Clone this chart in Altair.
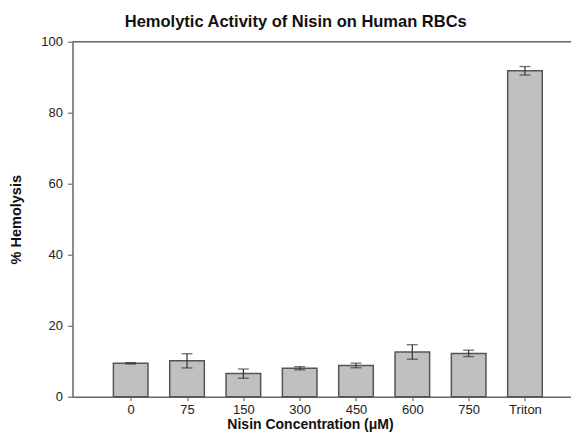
import altair as alt
import pandas as pd

categories = ["0", "75", "150", "300", "450", "600", "750", "Triton"]
hemolysis = [9.4, 10.1, 6.5, 8.0, 8.8, 12.6, 12.2, 91.8]
errors = [0.2, 2.0, 1.3, 0.45, 0.65, 2.05, 0.9, 1.2]
y_ticks = [0, 20, 40, 60, 80, 100]

df = pd.DataFrame({
    "idx": list(range(len(categories))),
    "cat": categories,
    "val": hemolysis,
    "err": errors,
})

FONT = "Liberation Sans"
label_expr = "[" + ",".join(f"'{c}'" for c in categories) + "][datum.value]"

xscale = alt.Scale(domain=[-1.033, 7.817], nice=False, zero=False)
yscale = alt.Scale(domain=[0, 100], nice=False)

base = alt.Chart(df).transform_calculate(
    xl="datum.idx - 0.307",
    xr="datum.idx + 0.307",
    lo="datum.val - datum.err",
    hi="datum.val + datum.err",
    zero="0",
)

bars = base.mark_bar(color="#c0c0c0", stroke="#555555", strokeWidth=1.5).encode(
    x=alt.X("xl:Q", scale=xscale, title="Nisin Concentration (μM)",
            axis=alt.Axis(values=list(range(len(categories))), labelExpr=label_expr,
                          grid=False, tickSize=4, labelPadding=3,
                          titleX=237.5, titleY=32.3, titleBaseline="alphabetic",
                          titleAnchor="middle", titleAlign="center",
                          domainColor="#6a6a6a", domainWidth=1.5, tickColor="#555555",
                          labelFont=FONT, labelFontSize=13, labelColor="#222222",
                          titleFont=FONT, titleFontSize=14, titleFontWeight="bold",
                          titleColor="#111111", labelFlush=False)),
    x2="xr:Q",
    y=alt.Y("val:Q", scale=yscale, title="% Hemolysis",
            axis=alt.Axis(values=y_ticks, grid=False, tickSize=5, labelPadding=5,
                          titlePadding=17, domainColor="#6a6a6a", domainWidth=1.5,
                          tickColor="#555555", labelFont=FONT, labelFontSize=13,
                          labelColor="#222222", titleFont=FONT, titleFontSize=14.5,
                          titleFontWeight="bold", titleColor="#111111")),
    y2="zero:Q",
)

rules = base.mark_rule(color="#333333", strokeWidth=1.2).encode(
    x=alt.X("idx:Q", scale=xscale),
    y=alt.Y("lo:Q", scale=yscale),
    y2="hi:Q",
)

caps_hi = base.mark_tick(color="#333333", orient="horizontal", size=11, thickness=1.3).encode(
    x=alt.X("idx:Q", scale=xscale),
    y=alt.Y("hi:Q", scale=yscale),
)
caps_lo = base.mark_tick(color="#333333", orient="horizontal", size=11, thickness=1.3).encode(
    x=alt.X("idx:Q", scale=xscale),
    y=alt.Y("lo:Q", scale=yscale),
)

top = alt.Chart(pd.DataFrame({"y": [100]})).mark_rule(color="#6a6a6a", strokeWidth=1.5).encode(
    y=alt.Y("y:Q", scale=yscale),
)

chart = alt.layer(bars, rules, caps_hi, caps_lo, top).properties(
    width=498.5,
    height=355,
    title=alt.TitleParams("Hemolytic Activity of Nisin on Human RBCs", font=FONT,
                          fontSize=16.5, fontWeight="bold", color="#111111",
                          anchor="middle", frame="group", dx=-26, offset=5),
    autosize=alt.AutoSizeParams(type="none"),
    padding={"left": 64.5, "top": 33.7, "right": 0, "bottom": 35.5},
).configure_view(stroke=None).configure(background="white")

chart.save("out.html", embed_options={"renderer": "svg", "actions": False})
